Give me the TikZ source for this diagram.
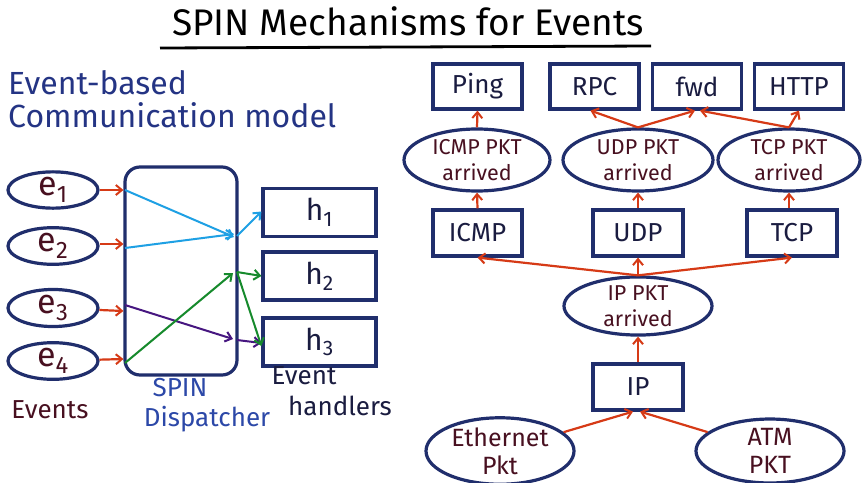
\documentclass[tikz,border=0pt]{standalone}
\usepackage{fontspec}
\setmainfont{Fira Sans}
\usetikzlibrary{shapes.geometric,arrows.meta}
\definecolor{navy}{RGB}{32,46,108}
\definecolor{arrowred}{RGB}{214,58,22}
\definecolor{skyblue}{RGB}{30,160,228}
\definecolor{violet}{RGB}{70,22,128}
\definecolor{leaf}{RGB}{22,138,44}
\definecolor{maroon}{RGB}{72,16,32}
\definecolor{ink}{RGB}{36,52,132}
\definecolor{spinblue}{RGB}{44,72,168}
\definecolor{boxtext}{RGB}{26,28,64}
\tikzset{
  box/.style={draw=navy, line width=3.2pt, minimum width=89pt, minimum height=45pt,
    inner sep=0pt, text=boxtext, font=\fontsize{26}{28}\selectfont},
  oval/.style={ellipse, draw=navy, line width=3.2pt, minimum width=148pt, minimum height=60pt,
    inner sep=0pt, text=maroon, align=center, font=\fontsize{21.5}{26}\selectfont},
  evoval/.style={ellipse, draw=navy, line width=3.2pt, minimum width=90pt, minimum height=32pt,
    inner sep=0pt, text=maroon, font=\fontsize{34}{34}\selectfont},
  hbox/.style={draw=navy, line width=3.2pt, minimum width=113pt, minimum height=48pt,
    inner sep=0pt, text=boxtext, font=\fontsize{30}{30}\selectfont},
  tip/.style={-{Straight Barb[length=6pt,width=10pt,line width=2pt]}},
  redarr/.style={tip, draw=arrowred, line width=2.2pt},
  bluearr/.style={tip, draw=skyblue, line width=2pt},
  violetarr/.style={tip, draw=violet, line width=2pt},
  greenarr/.style={tip, draw=leaf, line width=2pt},
  lbl/.style={inner sep=0pt, font=\fontsize{26}{28}\selectfont}
}
\begin{document}
\begin{tikzpicture}[x=1pt,y=-1pt]
\useasboundingbox (0,0) rectangle (862,482);
\fill[white] (0,0) rectangle (862,482);

% title and underline
\node[lbl, font=\fontsize{37}{38}\selectfont, text=black] (title) at (408,21) {SPIN Mechanisms for Events};
\coordinate (ulA) at (160,48);
\coordinate (ulB) at (651,46);
\draw[line width=2.8pt, black] (ulA) -- (ulB);

% heading on the left
\node[lbl, anchor=west, text=ink, font=\fontsize{32}{34}\selectfont] (hd1) at (8,83) {Event-based};
\node[lbl, anchor=west, text=ink, font=\fontsize{32}{34}\selectfont] (hd2) at (8,115) {Communication model};

% ---------------- event-based model ----------------
\node[evoval] (e1) at (53,190) {e\textsubscript{1}};
\node[evoval] (e2) at (53,246) {e\textsubscript{2}};
\node[evoval] (e3) at (53,308) {e\textsubscript{3}};
\node[evoval] (e4) at (53,361) {e\textsubscript{4}};

\node[draw=navy, line width=3.2pt, rounded corners=15pt, minimum width=112pt, minimum height=208pt] (disp) at (181,271) {};

\node[hbox] (h1) at (319.5,212.5) {h\textsubscript{1}};
\node[hbox] (h2) at (319.5,276) {h\textsubscript{2}};
\node[hbox] (h3) at (319.5,342) {h\textsubscript{3}};

\draw[redarr] (e1) -- (e1 -| disp.west);
\draw[redarr] ([yshift=2pt]e2.east) -- ([yshift=2pt]e2.east -| disp.west);
\draw[redarr] (e3) -- ([yshift=-3pt]e3 -| disp.west);
\draw[redarr] (e4) -- ([yshift=2pt]e4 -| disp.west);

% dispatcher routing
\coordinate (in1) at (125,190);
\coordinate (in2) at (125,248);
\coordinate (in3) at (125,305);
\coordinate (in4) at (125,363);
\coordinate (mB) at (234,237);
\coordinate (mBout) at (237,236);
\coordinate (mV) at (233,339);
\coordinate (mVout) at (237,340);
\coordinate (mG) at (233,273);
\coordinate (mGout) at (237,272);

\draw[bluearr] (in1) -- (mB);
\draw[bluearr] (in2) -- ([yshift=3pt]mB);
\draw[bluearr] (mBout) -- ([yshift=1pt]h1.west);
\draw[violetarr] (in3) -- (mV);
\draw[violetarr] (mVout) -- ([yshift=-1pt]h3.west);
\draw[greenarr] (in4) -- (mG);
\draw[greenarr] (mGout) -- (h2.west);
\draw[greenarr] (mGout) -- ([yshift=-4pt]h3.west);

\node[lbl, text=maroon] (evlbl) at (50,410) {Events};
\node[lbl, text=spinblue] (spinlbl) at (180,388) {SPIN};
\node[lbl, text=spinblue] (displbl) at (207,419) {Dispatcher};
\node[lbl, text=boxtext] (hlbl1) at (304,376) {Event};
\node[lbl, text=boxtext] (hlbl2) at (340,406) {handlers};

% ---------------- packet event graph ----------------
\node[box] (ping) at (477.5,86.5) {Ping};
\node[box] (rpc) at (594.5,86.5) {RPC};
\node[box] (fwd) at (697,86.5) {fwd};
\node[box] (http) at (799,86.5) {HTTP};

\node[oval, minimum width=146pt, minimum height=62pt] (icmpE) at (477,160) {ICMP PKT\\arrived};
\node[oval, minimum width=150pt, minimum height=62pt] (udpE) at (638,160) {UDP PKT\\arrived};
\node[oval, minimum width=142pt, minimum height=62pt] (tcpE) at (789,160) {TCP PKT\\arrived};

\node[box, minimum height=46pt] (icmp) at (477.5,233) {ICMP};
\node[box, minimum width=90pt, minimum height=46pt] (udp) at (638,233) {UDP};
\node[box, minimum width=90pt, minimum height=46pt] (tcp) at (792,233) {TCP};

\node[oval, minimum height=58pt] (ipE) at (638,306) {IP PKT\\arrived};
\node[box, minimum width=90pt, minimum height=46pt] (ip) at (638,387) {IP};

\node[oval, minimum height=56pt, font=\fontsize{25}{28}\selectfont] (ethE) at (500,451) {Ethernet\\Pkt};
\node[oval, minimum height=56pt, font=\fontsize{25}{28}\selectfont] (atmE) at (770,451) {ATM\\PKT};

\draw[redarr] (icmpE.north) -- (ping.south);
\draw[redarr] (udpE.north) -- ([xshift=-4pt]rpc.south);
\draw[redarr] (udpE.north) -- ([xshift=-2pt]fwd.south);
\draw[redarr] (tcpE.north) -- ([xshift=3pt]fwd.south);
\draw[redarr] (tcpE.north) -- (http.south);

\draw[redarr] (icmp.north) -- (icmpE.south);
\draw[redarr] (udp.north) -- (udpE.south);
\draw[redarr] (tcp.north -| tcpE.south) -- (tcpE.south);

\draw[redarr] (ipE.north) -- (icmp.south);
\draw[redarr] (ipE.north) -- (udp.south);
\draw[redarr] (ipE.north) -- (tcp.south);

\draw[redarr] (ip.north) -- (ipE.south);
\draw[redarr] (ethE) -- ([xshift=-5pt]ip.south);
\draw[redarr] (atmE) -- ([xshift=2pt]ip.south);
\end{tikzpicture}
\end{document}
